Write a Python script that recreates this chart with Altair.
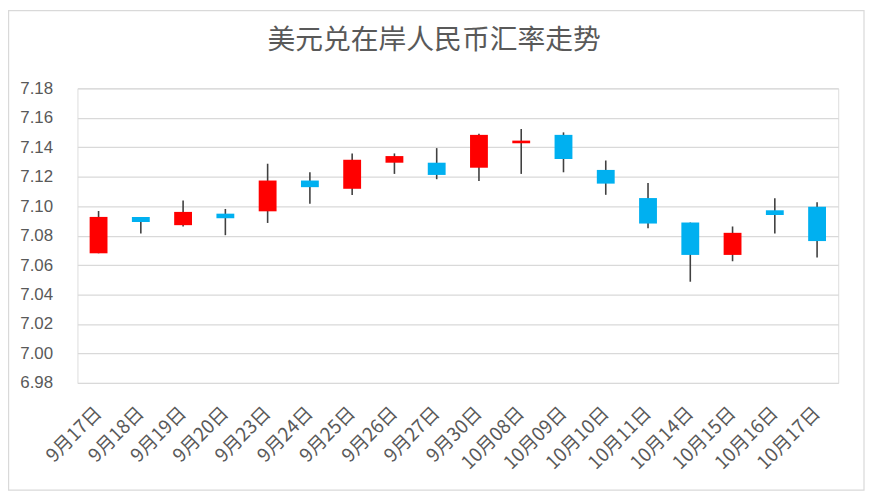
import altair as alt
import pandas as pd

dates = ["9月17日", "9月18日", "9月19日", "9月20日", "9月23日", "9月24日", "9月25日",
         "9月26日", "9月27日", "9月30日", "10月08日", "10月09日", "10月10日", "10月11日",
         "10月14日", "10月15日", "10月16日", "10月17日"]
open_ = [7.0680, 7.0927, 7.0871, 7.0949, 7.0965, 7.1174, 7.1118, 7.1295, 7.1295,
         7.1261, 7.1427, 7.1484, 7.1246, 7.1055, 7.0889, 7.0669, 7.0972, 7.0996]
close = [7.0927, 7.0893, 7.0961, 7.0918, 7.1174, 7.1129, 7.1315, 7.1340, 7.1212,
         7.1484, 7.1445, 7.1320, 7.1153, 7.0882, 7.0669, 7.0819, 7.0940, 7.0763]
high = [7.0967, 7.0927, 7.1039, 7.0981, 7.1288, 7.1230, 7.1358, 7.1358, 7.1394,
        7.1492, 7.1524, 7.1501, 7.1310, 7.1158, 7.0889, 7.0862, 7.1053, 7.1026]
low = [7.0680, 7.0815, 7.0862, 7.0803, 7.0886, 7.1017, 7.1075, 7.1219, 7.1183,
       7.1171, 7.1219, 7.1230, 7.1077, 7.0850, 7.0487, 7.0626, 7.0815, 7.0651]
y_ticks = [6.98, 7.00, 7.02, 7.04, 7.06, 7.08, 7.10, 7.12, 7.14, 7.16, 7.18]
title_text = "美元兑在岸人民币汇率走势"

df = pd.DataFrame({"date": dates, "open": open_, "close": close, "high": high, "low": low})
df["dir"] = ["up" if c >= o else "down" for o, c in zip(open_, close)]

FONT = "Noto Sans CJK SC"
x = alt.X("date:N", sort=dates, title=None,
          scale=alt.Scale(paddingInner=0, paddingOuter=0),
          axis=alt.Axis(labelAngle=-45, labelAlign="right", labelBaseline="middle",
                        labelPadding=27, labelFontSize=19, labelColor="#595959",
                        labelFont=FONT, labelOverlap=False, domain=False, ticks=False, grid=False))
yscale = alt.Scale(domain=[6.98, 7.18], nice=False, zero=False)

base = alt.Chart(df)
wicks = base.mark_rule(color="#404040", strokeWidth=1.6).encode(
    x=x,
    y=alt.Y("low:Q", scale=yscale, title=None,
            axis=alt.Axis(values=y_ticks, tickCount=len(y_ticks), format=".2f",
                          labelFontSize=17, labelColor="#595959",
                          labelFont="Liberation Sans", labelPadding=25, labelOverlap=False,
                          domain=False, ticks=False, gridColor="#d9d9d9", gridWidth=1.3)),
    y2="high:Q",
)
bodies = base.mark_bar(size=18).encode(
    x=x,
    y=alt.Y("open:Q", scale=yscale),
    y2="close:Q",
    color=alt.Color("dir:N", scale=alt.Scale(domain=["up", "down"], range=["#FF0000", "#00B0F0"]),
                    legend=None),
)
one = pd.DataFrame({"t": [title_text]})
title = alt.Chart(one).mark_text(fontSize=28, color="#595959", font=FONT,
                                  align="center", baseline="middle").encode(
    text="t:N", x=alt.value(359.6), y=alt.value(-48))
border = alt.Chart(one).mark_rect(
    fillOpacity=0, stroke="#d9d9d9", strokeWidth=1.2
).encode(x=alt.value(-69.4), x2=alt.value(793), y=alt.value(-78.4), y2=alt.value(405))

chart = alt.layer(wicks, bodies, title, border).properties(
    width=767, height=297,
    autosize=alt.AutoSizeParams(type="none"),
    padding={"left": 70, "top": 79, "right": 27, "bottom": 109},
).configure_view(stroke=None).configure(background="white")

chart.save("out.html", embed_options={"renderer": "svg", "actions": False})
